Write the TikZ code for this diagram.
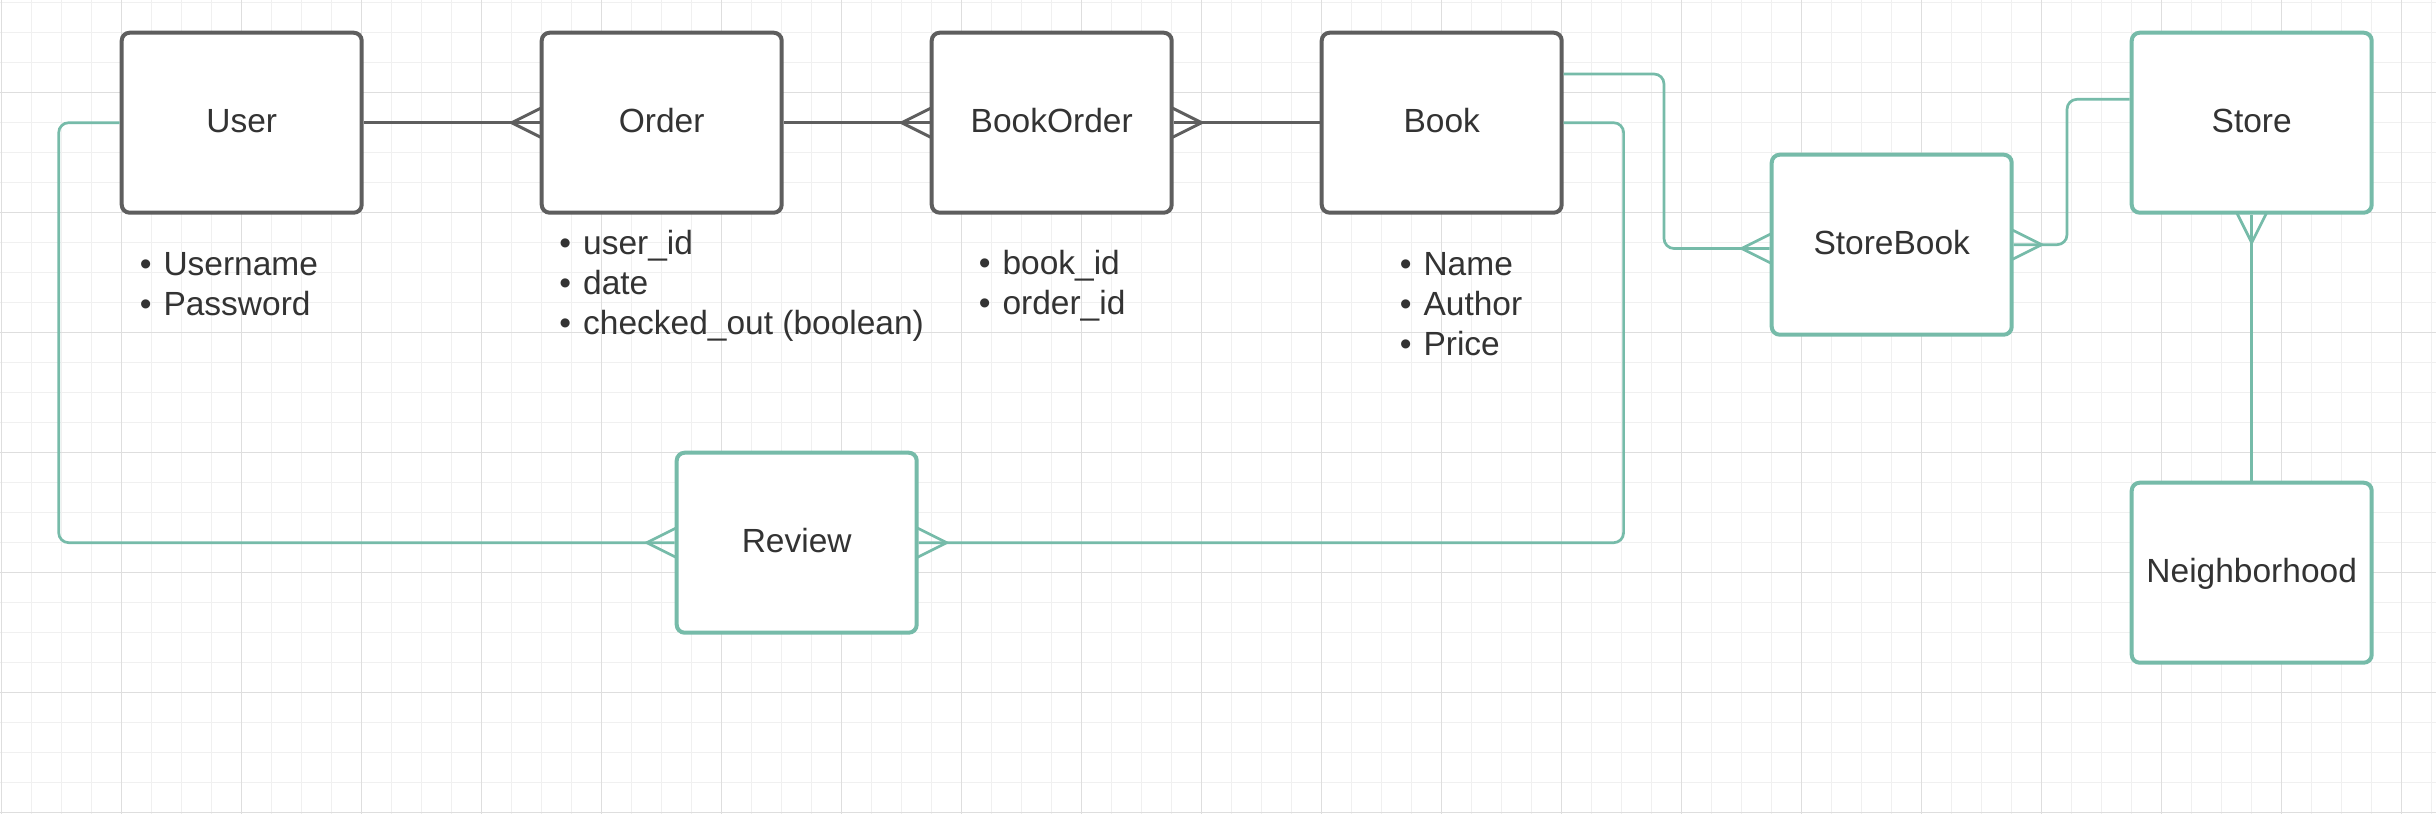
\documentclass[tikz,border=0pt]{standalone}
\usepackage{fontspec}
\setmainfont{Liberation Sans}
\usetikzlibrary{
  calc,         % Calculations $...$
}
\definecolor{gridminor}{HTML}{F0F0F0}
\definecolor{gridmajor}{HTML}{DEDEDE}
\definecolor{boxgray}{HTML}{5E5E5E}
\definecolor{lineteal}{HTML}{76BBA9}
\definecolor{textgray}{HTML}{333333}
\def\myfont{\fontsize{33.5}{40}\selectfont}
\tikzset{
  my entity/.style={
    draw=boxgray,
    line width=4pt,
    rounded corners=8pt,
    fill=white,
    text=textgray,
    font=\myfont,
    text height=24pt,
    text depth=5.4pt,
    minimum width=240pt,
    minimum height=180pt,
    inner sep=0pt,
    rectangle
  },
  my green entity/.style={
    my entity,
    draw=lineteal
  },
  my line/.style={
    draw=boxgray,
    line width=3pt
  },
  my green line/.style={
    draw=lineteal,
    line width=2.7pt,
    rounded corners=10pt
  },
  my attr/.style={
    anchor=base west,
    inner sep=0pt,
    text=textgray,
    font=\myfont
  },
  crow/.pic={
    \draw[pic actions,sharp corners] (30,-15) -- (0,0) -- (30,15);
  }
}

\begin{document}
\begin{tikzpicture}[x=1pt,y=-1pt]
\useasboundingbox (0,0) rectangle (2436,814);
\fill[white] (0,0) rectangle (2436,814);
% grid
\foreach \i in {0,...,81}
  \draw[gridminor,line width=1.2pt] ({1.7+30*\i},0) -- ({1.7+30*\i},814);
\foreach \j in {0,...,27}
  \draw[gridminor,line width=1.2pt] (0,{2.7+30*\j}) -- (2436,{2.7+30*\j});
\foreach \i in {0,...,20}
  \draw[gridmajor,line width=1.4pt] ({1.7+120*\i},0) -- ({1.7+120*\i},814);
\foreach \j in {0,...,6}
  \draw[gridmajor,line width=1.4pt] (0,{92.7+120*\j}) -- (2436,{92.7+120*\j});

\node[my entity]       (user)      at (241.7,122.7)  {User};
\node[my entity]       (order)     at (661.7,122.7)  {Order};
\node[my entity]       (bookorder) at (1051.7,122.7) {BookOrder};
\node[my entity]       (book)      at (1441.7,122.7) {Book};
\node[my green entity] (storebook) at (1891.7,244.7) {StoreBook};
\node[my green entity] (store)     at (2251.7,122.7) {Store};
\node[my green entity] (review)    at (796.7,542.7)  {Review};
\node[my green entity] (hood)      at (2251.7,572.7) {Neighborhood};

\foreach \txt [count=\i] in {Username,Password}
  \node[my attr] (userattr\i) at (139.6,{235+40*\i}) {•\hspace{12pt}\txt};
\foreach \txt [count=\i] in {user\_id,date,checked\_out (boolean)}
  \node[my attr] (orderattr\i) at (559.2,{214+40*\i}) {•\hspace{12pt}\txt};
\foreach \txt [count=\i] in {book\_id,order\_id}
  \node[my attr] (bookorderattr\i) at (978.6,{234+40*\i}) {•\hspace{12pt}\txt};
\foreach \txt [count=\i] in {Name,Author,Price}
  \node[my attr] (bookattr\i) at (1399.6,{235+40*\i}) {•\hspace{12pt}\txt};

\draw[my line] (user.east)      -- (order.west);
\draw[my line] (order.east)     -- (bookorder.west);
\draw[my line] (bookorder.east) -- (book.west);
\pic[my line]            at (511.7,122.7)  {crow};
\pic[my line]            at (901.7,122.7)  {crow};
\pic[my line,rotate=180] at (1201.7,122.7) {crow};

\draw[my green line] ([yshift=48.7pt]book.east) -| (1664,248.5) -- ([yshift=-3.8pt]storebook.west);
\draw[my green line] (storebook.east) -| (2067,99.3) -- ([yshift=23.4pt]store.west);
\draw[my green line] (store.south) -- (hood.north);
\draw[my green line] (user.west) -| (58.7,542.7) -- (review.west);
\draw[my green line] (book.east) -| (1623.6,542.7) -- (review.east);
\pic[my green line]            at (1741.7,248.5) {crow};
\pic[my green line,rotate=180] at (2041.7,244.7) {crow};
\pic[my green line,rotate=90]  at (2251.7,242.7) {crow};
\pic[my green line]            at (646.7,542.7)  {crow};
\pic[my green line,rotate=180] at (946.7,542.7)  {crow};
\end{tikzpicture}
\end{document}
